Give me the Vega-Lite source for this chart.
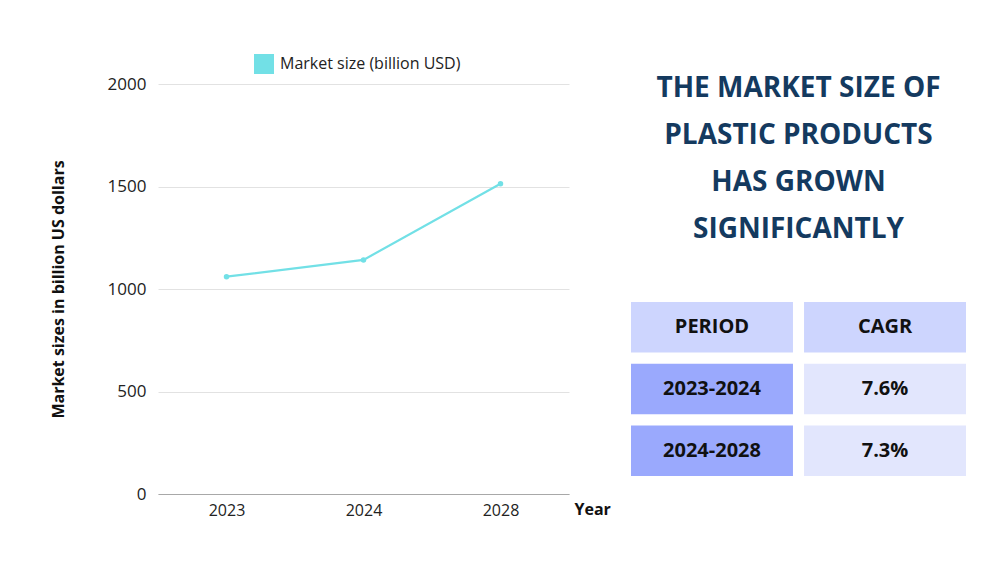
{
  "$schema": "https://vega.github.io/schema/vega-lite/v6.json",
  "padding": {"left": 50, "top": 54, "right": 5, "bottom": 5},
  "background": "#ffffff",
  "bounds": "flush",
  "spacing": 62,
  "resolve": {"scale": {"color": "independent", "x": "independent", "y": "independent"}, "legend": {"color": "independent"}},
  "config": {
    "view": {"stroke": null},
    "font": "Open Sans"
  },
  "datasets": {
    "market": [
      {"year": "2023", "size": 1060, "series": "Market size (billion USD)"},
      {"year": "2024", "size": 1142, "series": "Market size (billion USD)"},
      {"year": "2028", "size": 1513, "series": "Market size (billion USD)"}
    ],
    "headline": [
      {"line": 1, "text": "THE MARKET SIZE OF"},
      {"line": 2, "text": "PLASTIC PRODUCTS"},
      {"line": 3, "text": "HAS GROWN"},
      {"line": 4, "text": "SIGNIFICANTLY"}
    ],
    "table": [
      {"row": 1, "col": "PERIOD", "label": "PERIOD", "kind": "header"},
      {"row": 1, "col": "CAGR", "label": "CAGR", "kind": "header"},
      {"row": 2, "col": "PERIOD", "label": "2023-2024", "kind": "period"},
      {"row": 2, "col": "CAGR", "label": "7.6%", "kind": "value"},
      {"row": 3, "col": "PERIOD", "label": "2024-2028", "kind": "period"},
      {"row": 3, "col": "CAGR", "label": "7.3%", "kind": "value"}
    ]
  },
  "hconcat": [
    {
      "width": 411,
      "height": 410,
      "data": {"name": "market"},
      "encoding": {
        "x": {
          "field": "year",
          "type": "ordinal",
          "scale": {"type": "point", "padding": 0.5},
          "axis": {
            "title": "Year",
            "titleFontSize": 16,
            "titleFontWeight": "bold",
            "titleColor": "#111111",
            "titleX": 416,
            "titleY": 15,
            "titleAlign": "left",
            "titleBaseline": "middle",
            "labelAngle": 0,
            "labelFontSize": 16,
            "labelColor": "#222222",
            "labelPadding": 8,
            "ticks": false,
            "tickSize": 0,
            "domainColor": "#a8a8a8",
            "domainWidth": 1.2,
            "grid": false
          }
        },
        "y": {
          "field": "size",
          "type": "quantitative",
          "scale": {"domain": [0, 2000]},
          "axis": {
            "title": "Market sizes in billion US dollars",
            "titleFontSize": 16,
            "titleFontWeight": "bold",
            "titleColor": "#111111",
            "titlePadding": 41,
            "values": [0, 500, 1000, 1500, 2000],
            "format": "d",
            "labelFontSize": 17,
            "labelColor": "#222222",
            "labelPadding": 12,
            "ticks": false,
            "tickSize": 0,
            "domain": false,
            "grid": true,
            "gridColor": "#e2e2e2",
            "gridWidth": 1
          }
        },
        "color": {
          "field": "series",
          "type": "nominal",
          "scale": {"range": ["#72e0e6"]},
          "legend": {
            "title": null,
            "orient": "none",
            "legendX": 96,
            "legendY": -30,
            "symbolType": "square",
            "symbolSize": 400,
            "symbolStrokeWidth": 0,
            "labelFontSize": 16,
            "labelColor": "#222222",
            "labelOffset": 6,
            "labelLimit": 400
          }
        }
      },
      "layer": [
        {"mark": {"type": "line", "strokeWidth": 2.2}},
        {"mark": {"type": "point", "filled": true, "size": 30, "opacity": 1}}
      ]
    },
    {
      "bounds": "flush",
      "spacing": 77,
      "resolve": {"scale": {"color": "independent", "x": "independent", "y": "independent"}},
      "vconcat": [
        {
          "width": 335,
          "height": 141,
          "data": {"name": "headline"},
          "mark": {
            "type": "text",
            "fontSize": 28,
            "fontWeight": "bold",
            "font": "Open Sans",
            "color": "#143a5f",
            "align": "center",
            "baseline": "middle",
            "dy": 5
          },
          "encoding": {
            "y": {
              "field": "line",
              "type": "ordinal",
              "scale": {"type": "point", "padding": 0},
              "axis": null
            },
            "text": {"field": "text"}
          }
        },
        {
          "width": 335,
          "height": 174,
          "data": {"name": "table"},
          "encoding": {
            "x": {
              "field": "col",
              "type": "nominal",
              "sort": ["PERIOD", "CAGR"],
              "scale": {"type": "band", "paddingInner": 0.064, "paddingOuter": 0},
              "axis": null
            },
            "y": {
              "field": "row",
              "type": "ordinal",
              "scale": {"type": "band", "paddingInner": 0.18, "paddingOuter": 0},
              "axis": null
            }
          },
          "layer": [
            {
              "mark": {"type": "rect"},
              "encoding": {
                "color": {
                  "field": "kind",
                  "type": "nominal",
                  "scale": {"domain": ["header", "period", "value"], "range": ["#cdd5fe", "#9aa9fd", "#e2e6fd"]},
                  "legend": null
                }
              }
            },
            {
              "mark": {"type": "text", "fontSize": 20, "fontWeight": "bold", "color": "#111111", "font": "Open Sans"},
              "encoding": {"text": {"field": "label"}}
            }
          ]
        }
      ]
    }
  ]
}
